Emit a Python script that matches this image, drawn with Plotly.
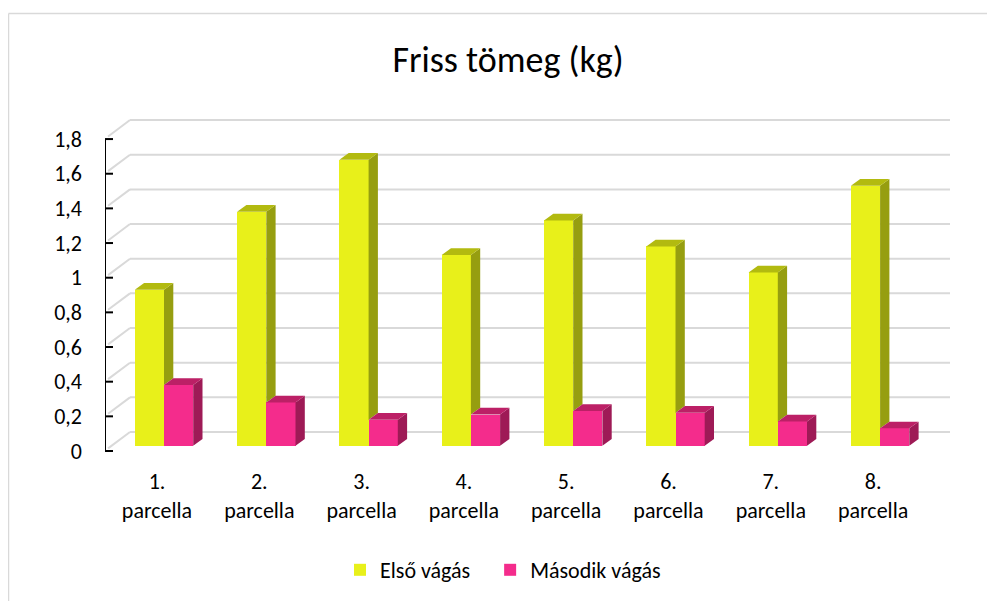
import plotly.graph_objects as go

# ---- data ----
categories = ["1.<br>parcella", "2.<br>parcella", "3.<br>parcella", "4.<br>parcella",
              "5.<br>parcella", "6.<br>parcella", "7.<br>parcella", "8.<br>parcella"]
elso_vagas = [0.9, 1.35, 1.65, 1.1, 1.3, 1.15, 1.0, 1.5]
masodik_vagas = [0.35, 0.25, 0.15, 0.18, 0.2, 0.19, 0.14, 0.1]
y_ticks = [0, 0.2, 0.4, 0.6, 0.8, 1.0, 1.2, 1.4, 1.6, 1.8]
y_ticktext = ["0", "0,2", "0,4", "0,6", "0,8", "1", "1,2", "1,4", "1,6", "1,8"]
series_names = ["Első vágás", "Második vágás"]

# ---- style / geometry (pixel layout, in page px) ----
FONT = "Calibri, Carlito, Lato, sans-serif"
OFF = 8                                      # default page body margin
W, H = 995 - OFF, 601 - OFF
PL, PR, PT, PB = 105, 955, 110, 460         # plot area in page px
PX_PER_X = 102.3                             # px per category
X0_PX = 157                                  # px of category 0 (front plane)
PX_PER_Y = 173.3
Y0_PX = 451

xmin = (PL - X0_PX) / PX_PER_X
xmax = (PR - X0_PX) / PX_PER_X
ymax = (Y0_PX - PT) / PX_PER_Y
ymin = (Y0_PX - PB) / PX_PER_Y

wall_dx = 25 / PX_PER_X      # depth of back wall
wall_dy = 19 / PX_PER_Y
bar_shift_x = 7 / PX_PER_X   # bars sit slightly behind front plane
bar_shift_y = 5.3 / PX_PER_Y
bar_dx = 9.3 / PX_PER_X      # bar depth
bar_dy = 6.7 / PX_PER_Y
bar_w = 29.2 / PX_PER_X
grid_right = (950 - X0_PX) / PX_PER_X

YEL = dict(front="#E8F01A", side="#969E10", top="#B2BA10")
PNK = dict(front="#F42C8C", side="#9E1A56", top="#BC2066")

fig = go.Figure()

# front faces (bars)
fig.add_trace(go.Bar(x=list(range(len(categories))), y=elso_vagas, base=bar_shift_y,
                     offset=bar_shift_x - bar_w, width=bar_w, name=series_names[0] + "\u00a0\u00a0\u00a0",
                     marker=dict(color=YEL["front"], line=dict(width=0))))
fig.add_trace(go.Bar(x=list(range(len(categories))), y=masodik_vagas, base=bar_shift_y,
                     offset=bar_shift_x, width=bar_w, name=series_names[1],
                     marker=dict(color=PNK["front"], line=dict(width=0))))


def faces(values, offset, floor_values=None):
    sx, sy, tx, ty = [], [], [], []
    for i, v in enumerate(values):
        xl = i + offset
        xr = xl + bar_w
        b = bar_shift_y
        fb = b + (floor_values[i] if floor_values else 0)
        top = b + v
        sx += [xr, xr + bar_dx, xr + bar_dx, xr, xr, None]
        sy += [fb, fb + bar_dy, top + bar_dy, top, fb, None]
        tx += [xl, xl + bar_dx, xr + bar_dx, xr, xl, None]
        ty += [top, top + bar_dy, top + bar_dy, top, top, None]
    return sx, sy, tx, ty


for vals, off, col, floor in [(elso_vagas, bar_shift_x - bar_w, YEL, masodik_vagas),
                              (masodik_vagas, bar_shift_x, PNK, None)]:
    sx, sy, tx, ty = faces(vals, off, floor)
    fig.add_trace(go.Scatter(x=sx, y=sy, fill="toself", mode="lines", fillcolor=col["side"],
                             line=dict(width=0, color=col["side"]), showlegend=False, hoverinfo="skip"))
    fig.add_trace(go.Scatter(x=tx, y=ty, fill="toself", mode="lines", fillcolor=col["top"],
                             line=dict(width=0, color=col["top"]), showlegend=False, hoverinfo="skip"))

shapes = []
# back wall gridlines with diagonal connectors
for t in y_ticks:
    shapes.append(dict(type="line", xref="x", yref="y", x0=xmin + 0.03, y0=t + 0.015,
                       x1=xmin + wall_dx, y1=t + wall_dy, line=dict(color="#D9D9D9", width=2), layer="below"))
    shapes.append(dict(type="line", xref="x", yref="y", x0=xmin + wall_dx, y0=t + wall_dy,
                       x1=grid_right, y1=t + wall_dy, line=dict(color="#D9D9D9", width=2), layer="below"))
# front value axis with inside ticks
shapes.append(dict(type="line", xref="x", yref="y", x0=xmin, y0=y_ticks[0], x1=xmin, y1=y_ticks[-1],
                   line=dict(color="black", width=2)))
for t in y_ticks:
    shapes.append(dict(type="line", xref="x", yref="y", x0=xmin, y0=t, x1=xmin + 8 / PX_PER_X, y1=t,
                       line=dict(color="black", width=2)))


def px2paper_x(px):
    return (px - PL) / (PR - PL)


def px2paper_y(py):
    return (PB - py) / (PB - PT)


# chart border (top and left visible)
shapes.append(dict(type="line", xref="paper", yref="paper", x0=px2paper_x(8.5), y0=px2paper_y(13.5),
                   x1=px2paper_x(1000), y1=px2paper_y(13.5), line=dict(color="#D9D9D9", width=1.5)))
shapes.append(dict(type="line", xref="paper", yref="paper", x0=px2paper_x(8.5), y0=px2paper_y(13.5),
                   x1=px2paper_x(8.5), y1=px2paper_y(610), line=dict(color="#D9D9D9", width=1.5)))

fig.update_layout(
    width=W, height=H,
    margin=dict(l=PL - OFF, r=W - (PR - OFF), t=PT - OFF, b=H - (PB - OFF), autoexpand=False),
    paper_bgcolor="white", plot_bgcolor="white",
    font=dict(family=FONT, color="#000000", size=22),
    title=dict(text="Friss tömeg (kg)", x=(508 - OFF) / W, xanchor="center", y=1 - (59 - OFF) / H,
               yanchor="middle", font=dict(size=36, family=FONT, color="#000000")),
    shapes=shapes,
    showlegend=True,
    legend=dict(orientation="h", x=px2paper_x(503), xanchor="center", y=px2paper_y(570), yanchor="middle",
                font=dict(size=22, family=FONT), traceorder="normal"),
    xaxis=dict(range=[xmin, xmax], tickvals=list(range(len(categories))), ticktext=categories,
               showgrid=False, zeroline=False, showline=False, ticks="", tickfont=dict(size=22),
               ticklabelstandoff=6),
    yaxis=dict(range=[ymin, ymax], tickvals=y_ticks, ticktext=y_ticktext, showgrid=False, zeroline=False,
               showline=False, ticks="", ticklabelstandoff=22, tickfont=dict(size=22)),
    bargap=0,
)

fig.write_html("out.html")
